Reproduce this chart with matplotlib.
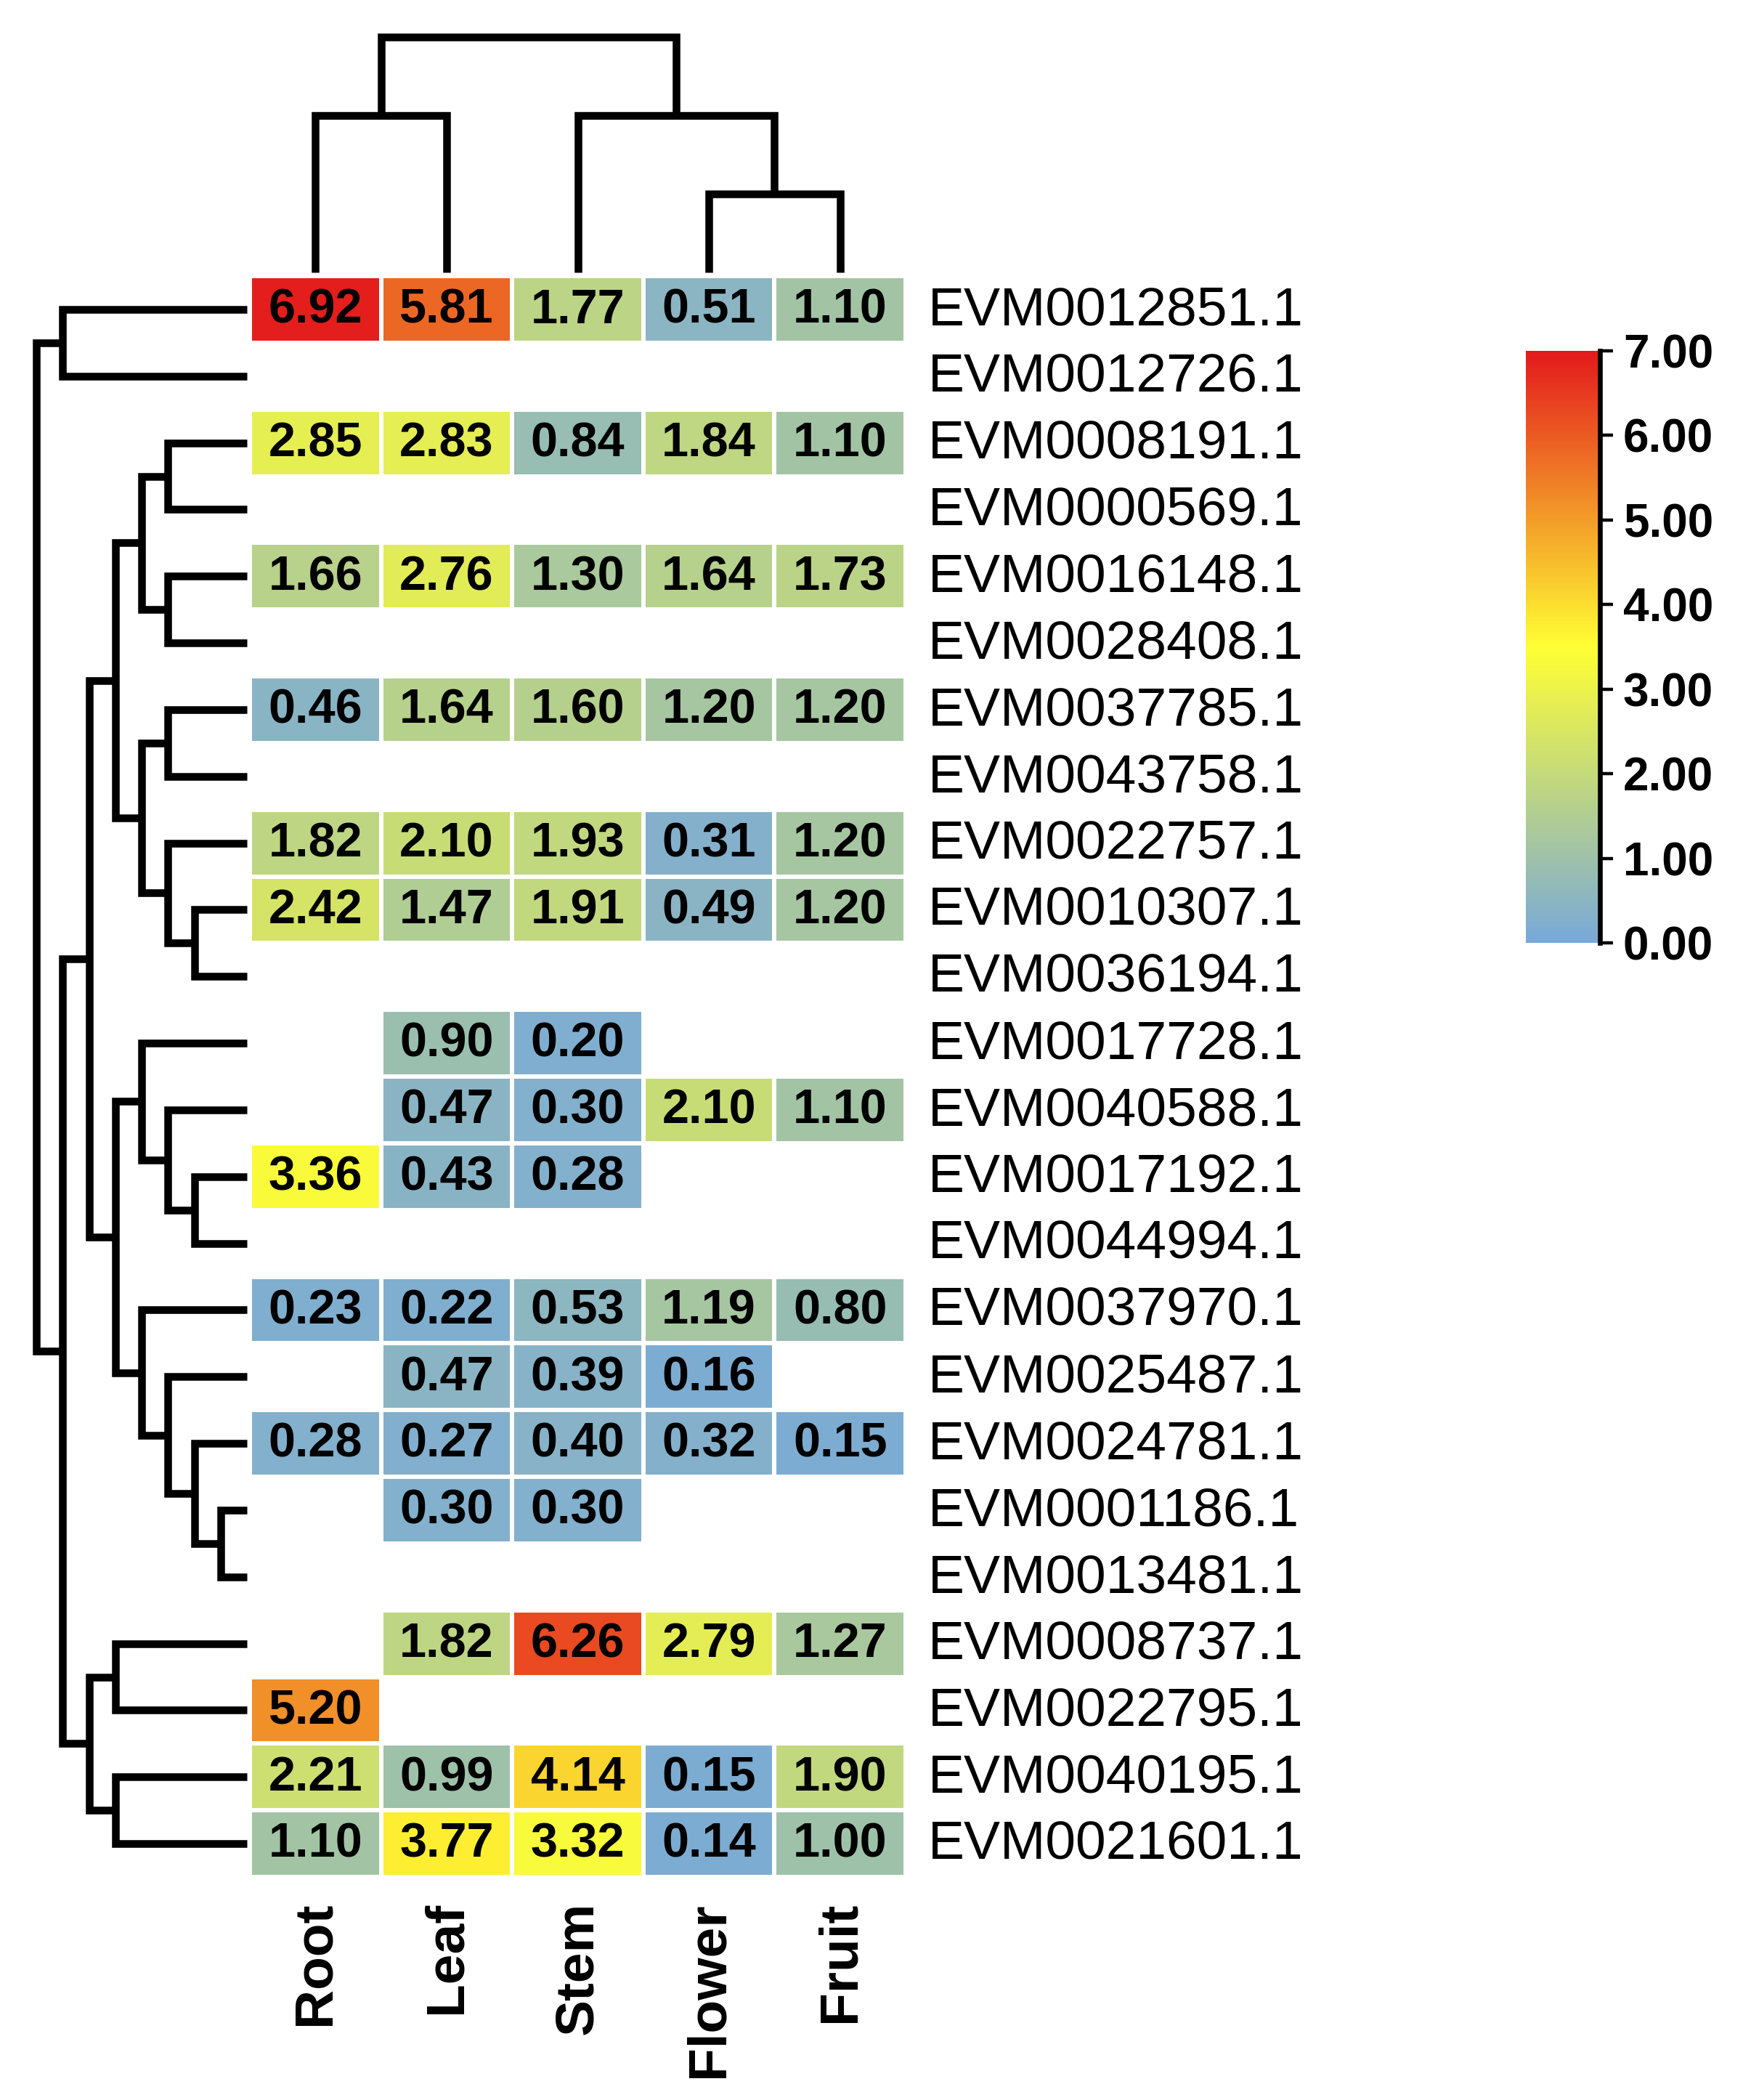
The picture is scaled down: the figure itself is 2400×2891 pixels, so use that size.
import numpy as np
import matplotlib
matplotlib.use("Agg")
import matplotlib.pyplot as plt
from matplotlib.colors import LinearSegmentedColormap

plt.rcParams['font.family'] = ['Liberation Sans', 'DejaVu Sans']

nan = np.nan

tissues = ["Root", "Leaf", "Stem", "Flower", "Fruit"]

genes = ["EVM0012851.1", "EVM0012726.1", "EVM0008191.1", "EVM0000569.1",
         "EVM0016148.1", "EVM0028408.1", "EVM0037785.1", "EVM0043758.1",
         "EVM0022757.1", "EVM0010307.1", "EVM0036194.1", "EVM0017728.1",
         "EVM0040588.1", "EVM0017192.1", "EVM0044994.1", "EVM0037970.1",
         "EVM0025487.1", "EVM0024781.1", "EVM0001186.1", "EVM0013481.1",
         "EVM0008737.1", "EVM0022795.1", "EVM0040195.1", "EVM0021601.1"]

root_vals   = [6.92, nan, 2.85, nan, 1.66, nan, 0.46, nan, 1.82, 2.42, nan, nan,
               nan, 3.36, nan, 0.23, nan, 0.28, nan, nan, nan, 5.20, 2.21, 1.10]
leaf_vals   = [5.81, nan, 2.83, nan, 2.76, nan, 1.64, nan, 2.10, 1.47, nan, 0.90,
               0.47, 0.43, nan, 0.22, 0.47, 0.27, 0.30, nan, 1.82, nan, 0.99, 3.77]
stem_vals   = [1.77, nan, 0.84, nan, 1.30, nan, 1.60, nan, 1.93, 1.91, nan, 0.20,
               0.30, 0.28, nan, 0.53, 0.39, 0.40, 0.30, nan, 6.26, nan, 4.14, 3.32]
flower_vals = [0.51, nan, 1.84, nan, 1.64, nan, 1.20, nan, 0.31, 0.49, nan, nan,
               2.10, nan, nan, 1.19, 0.16, 0.32, nan, nan, 2.79, nan, 0.15, 0.14]
fruit_vals  = [1.10, nan, 1.10, nan, 1.73, nan, 1.20, nan, 1.20, 1.20, nan, nan,
               1.10, nan, nan, 0.80, nan, 0.15, nan, nan, 1.27, nan, 1.90, 1.00]

# clustering trees (row indices / column indices)
clu_a = (0, 1)
clu_c1 = (((2, 3), (4, 5)), ((6, 7), (8, (9, 10))))
clu_c2 = ((11, (12, (13, 14))), (15, (16, (17, (18, 19)))))
clu_d = ((20, 21), (22, 23))
row_tree = (clu_a, ((clu_c1, clu_c2), clu_d))
col_tree = ((0, 1), (2, (3, 4)))

data = np.array([root_vals, leaf_vals, stem_vals, flower_vals, fruit_vals]).T
nrow, ncol = data.shape

cmap = LinearSegmentedColormap.from_list("byr", ["#78a9d9", "#ffff33", "#e31a1c"])

W, H = 2400, 2891
fig = plt.figure(figsize=(W / 200, H / 200), dpi=200)

def fx(px):
    return px / W

def fy(py):
    return 1 - py / H

hm_l, hm_r, hm_t, hm_b = 344, 1247, 380, 2584
ax = fig.add_axes([fx(hm_l), fy(hm_b), fx(hm_r - hm_l), (hm_b - hm_t) / H])
mesh = ax.pcolormesh(np.arange(ncol + 1), np.arange(nrow + 1),
                     np.ma.masked_invalid(data), cmap=cmap, vmin=0, vmax=7,
                     edgecolors="white", linewidth=2)
ax.set_xlim(0, ncol)
ax.set_ylim(nrow, 0)
ax.axis("off")

for i in range(nrow):
    for j in range(ncol):
        v = data[i, j]
        if not np.isnan(v):
            ax.text(j + 0.5, i + 0.52, f"{v:.2f}", ha="center", va="center",
                    fontsize=24, fontweight="bold", color="black")
    ax.text(ncol + 0.17, i + 0.52, genes[i], ha="left", va="center",
            fontsize=27, color="black", clip_on=False)

for j, t in enumerate(tissues):
    ax.text(j + 0.5, nrow + 0.37, t, rotation=90, ha="center", va="top",
            fontsize=27, fontweight="bold", clip_on=False)

lw = 3.8

# row dendrogram
rax = fig.add_axes([fx(50), fy(hm_b), fx(340 - 50), (hm_b - hm_t) / H])
rax.set_xlim(0, 8)
rax.set_ylim(nrow, 0)
rax.axis("off")

def draw_row(node, depth):
    if isinstance(node, int):
        return node + 0.5, 8
    a, b = node
    pa, da = draw_row(a, depth + 1)
    pb, db = draw_row(b, depth + 1)
    rax.plot([da, depth, depth, db], [pa, pa, pb, pb], color="black", lw=lw,
             solid_capstyle="butt", solid_joinstyle="miter", clip_on=False)
    return (pa + pb) / 2, depth

draw_row(row_tree, 0)

# column dendrogram
cax_t, cax_b = 51, 375
dax = fig.add_axes([fx(hm_l), fy(cax_b), fx(hm_r - hm_l), (cax_b - cax_t) / H])
dax.set_xlim(0, ncol)
dax.set_ylim(3, 0)
dax.axis("off")

def draw_col(node, depth):
    if isinstance(node, int):
        return node + 0.5, 3
    a, b = node
    pa, da = draw_col(a, depth + 1)
    pb, db = draw_col(b, depth + 1)
    dax.plot([pa, pa, pb, pb], [da, depth, depth, db], color="black", lw=lw,
             solid_capstyle="butt", solid_joinstyle="miter", clip_on=False)
    return (pa + pb) / 2, depth

draw_col(col_tree, 0)

# colorbar
cbax = fig.add_axes([fx(2101), fy(1298), fx(2203 - 2101), (1298 - 483) / H])
cb = fig.colorbar(mesh, cax=cbax, ticks=np.arange(0, 8, 1))
cb.outline.set_visible(False)
cbax.plot([1, 1], [0, 1], transform=cbax.transAxes, color="black", lw=2.4,
          clip_on=False)
cbax.tick_params(length=6.5, width=1.6, pad=5, labelsize=23)
cb.set_ticklabels([f"{t:.2f}" for t in range(8)])
for lab in cbax.get_yticklabels():
    lab.set_fontweight("bold")

fig.savefig("out.png", dpi=200, facecolor="white")
